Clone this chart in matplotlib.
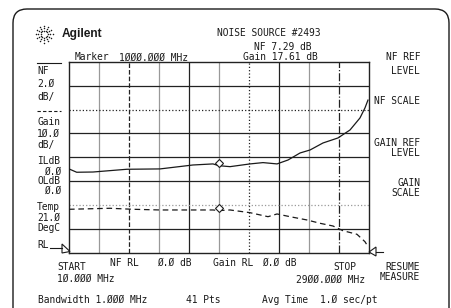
import matplotlib
matplotlib.use("Agg")
import matplotlib.pyplot as plt
import matplotlib.transforms as mtransforms
from matplotlib.patches import FancyBboxPatch, Polygon
from matplotlib.lines import Line2D
import numpy as np

start_mhz, stop_mhz = 10, 2900
nf_ref, nf_scale = 0.0, 2.0        # dB, dB/div
gain_ref, gain_scale = 0.0, 10.0   # dB, dB/div
n_div_y = 8

nf_freq = [10, 84, 241, 566, 887, 1204, 1397, 1455, 1561, 1754, 1879, 2014,
           2120, 2236, 2332, 2457, 2601, 2717, 2813, 2861, 2890]
nf_db = [7.02, 6.74, 6.76, 6.99, 7.02, 7.35, 7.44, 7.29, 7.21, 7.44, 7.55, 7.44,
         7.77, 8.36, 8.61, 9.20, 9.62, 10.29, 11.30, 12.14, 12.80]

gain_freq = [10, 405, 627, 887, 1204, 1397, 1455, 1561, 1754, 1927, 2014, 2139,
             2303, 2428, 2553, 2649, 2784, 2861, 2890]
gain_db = [18.15, 18.57, 18.15, 17.86, 17.86, 17.86, 17.61, 17.86, 16.72, 15.04,
           16.18, 15.04, 13.66, 12.27, 11.13, 9.16, 7.65, 4.54, 2.50]

marker_freq = 1455
marker_nf = 7.29
marker_gain = 17.61

# ---- figure ----------------------------------------------------------------
W, H = 452, 308
fig = plt.figure(figsize=(W / 100, H / 100), dpi=100)
ident = mtransforms.IdentityTransform()
MONO = "DejaVu Sans Mono"
FS = 6.9
INK = "#1a1a1a"


def txt(x, y, s, ha="left", **kw):
    kw.setdefault("fontsize", FS)
    kw.setdefault("family", MONO)
    fig.text(x, H - y, s, ha=ha, va="center", transform=ident, color=INK, **kw)


def seg(xs, ys, **kw):
    kw.setdefault("color", INK)
    kw.setdefault("lw", 0.8)
    fig.add_artist(Line2D(xs, [H - y for y in ys], transform=ident, **kw))


# outer rounded frame (bottom edge is off the picture)
fig.add_artist(FancyBboxPatch((13, -40), 436, H - 9 + 40,
                              boxstyle="round,pad=0,rounding_size=14",
                              transform=ident, fill=False, ec=INK, lw=1.0))

# plot area
gx0, gx1, gy0, gy1 = 69, 369, 62, 252.5
ax = fig.add_axes([gx0 / W, (H - gy1) / H, (gx1 - gx0) / W, (gy1 - gy0) / H])
ax.set_xlim(start_mhz, stop_mhz)
ax.set_ylim(nf_ref, nf_ref + nf_scale * n_div_y)
ax.set_xticks([])
ax.set_yticks([])
for sp in ax.spines.values():
    sp.set_color("#222222")
    sp.set_linewidth(1.0)

# grid lines with the mixed look of the printout (left to right, bottom to top)
step_x = (stop_mhz - start_mhz) / 10
v_styles = ["g", "k--", "g", "k", "g", "k:", "k", "g", "k-."]
for i, st in enumerate(v_styles, start=1):
    c = "#999999" if st[0] == "g" else "#222222"
    ls = st[1:] if len(st) > 1 else "-"
    ax.axvline(start_mhz + i * step_x, color=c, lw=0.9, ls=ls, zorder=1)
h_styles = ["k", "g:", "k", "k", "k", "k:", "k"]
for i, st in enumerate(h_styles, start=1):
    c = "#999999" if st[0] == "g" else "#222222"
    ls = st[1:] if len(st) > 1 else "-"
    ax.axhline(nf_ref + i * nf_scale, color=c, lw=0.9, ls=ls, zorder=1)

ax.plot(nf_freq, nf_db, color=INK, lw=0.9, zorder=3)
ax2 = ax.twinx()
ax2.set_ylim(gain_ref, gain_ref + gain_scale * n_div_y)
ax2.axis("off")
ax2.plot(gain_freq, gain_db, color=INK, lw=0.9, dashes=(4.5, 3), zorder=3)

up = mtransforms.offset_copy(ax.transData, fig=fig, x=0, y=3, units="dots")
ax.plot([marker_freq], [marker_nf], marker="D", ms=4, mfc="white", mec=INK,
        mew=0.8, transform=up, zorder=4)
up2 = mtransforms.offset_copy(ax2.transData, fig=fig, x=0, y=3, units="dots")
ax2.plot([marker_freq], [marker_gain], marker="D", ms=4, mfc="white", mec=INK,
         mew=0.8, transform=up2, zorder=4)

# reference-level arrows
seg([50, 62], [248, 248])
fig.add_artist(Polygon([(62, H - 244), (62, H - 253), (70, H - 251.5)], closed=True,
                       fill=False, ec=INK, lw=0.8, transform=ident))
fig.add_artist(Polygon([(376, H - 247), (376, H - 256), (369, H - 252)], closed=True,
                       fill=False, ec=INK, lw=0.8, transform=ident))
seg([376, 383], [252, 252])

# Agilent logo
cx, cy = 44, 34
for k in range(12):
    a = k * np.pi / 6
    for r in (3.5, 6.0, 8.5):
        fig.add_artist(Line2D([cx + r * np.cos(a)], [H - cy + r * np.sin(a)],
                              marker="o", ms=1.1, mec="none", mfc=INK,
                              transform=ident))
txt(62, 34, "Agilent", family="Liberation Sans", fontsize=8.6, fontweight="bold")

# header texts
txt(217, 33, "NOISE SOURCE #2493")
txt(254, 47.5, "NF 7.29 dB")
txt(243, 57.5, "Gain 17.61 dB")
txt(75, 57.5, "Marker")
txt(119, 57.5, "1ØØØ.ØØØ MHz")

# left panel
seg([37, 61], [62.5, 62.5])
seg([37, 61], [111, 111], ls=(0, (3, 2)))
for s, y in [("NF", 71), ("2.Ø", 84), ("dB/", 97),
             ("Gain", 122), ("1Ø.Ø", 134), ("dB/", 145),
             ("ILdB", 161.5), ("OLdB", 181),
             ("Temp", 206.5), ("21.Ø", 217.5), ("DegC", 228), ("RL", 245)]:
    txt(37, y, s)
txt(61, 171.5, "Ø.Ø", ha="right")
txt(61, 191, "Ø.Ø", ha="right")

# right softkey labels
for s, y in [("NF REF", 57.5), ("LEVEL", 71.5), ("NF SCALE", 100.5),
             ("GAIN REF", 142.5), ("LEVEL", 153.5), ("GAIN", 183), ("SCALE", 193.5),
             ("RESUME", 267), ("MEASURE", 277)]:
    txt(420, y, s, ha="right")

# bottom annotations
txt(57, 267, "START")
txt(57, 278.5, "1Ø.ØØØ MHz")
txt(110, 263, "NF RL")
txt(157, 263, "Ø.Ø dB")
txt(213, 263, "Gain RL")
txt(262, 263, "Ø.Ø dB")
txt(333, 267, "STOP")
txt(296, 280, "29ØØ.ØØØ MHz")
txt(38, 300, "Bandwidth 1.ØØØ MHz")
txt(186, 300, "41 Pts")
txt(262, 300, "Avg Time")
txt(320, 300, "1.Ø sec/pt")

fig.savefig("out.png", dpi=100)
